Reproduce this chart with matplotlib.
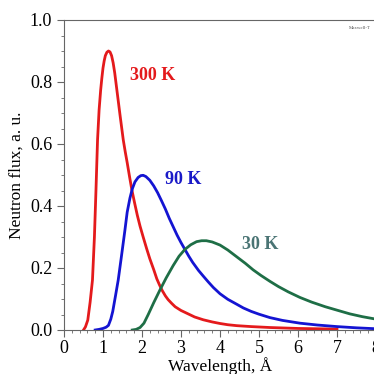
import matplotlib
matplotlib.use('Agg')
import matplotlib.pyplot as plt
from matplotlib.ticker import MultipleLocator

# 300 K curve
x300 = [0.50, 0.55, 0.61, 0.67, 0.73, 0.78, 0.82, 0.86, 0.90, 0.94, 0.97, 1.00, 1.03, 1.06,
        1.10, 1.14, 1.18, 1.22, 1.26, 1.30, 1.35, 1.40, 1.44, 1.52, 1.57, 1.62, 1.68,
        1.74, 1.81, 1.88, 1.95, 2.03, 2.12, 2.20, 2.30, 2.38, 2.45, 2.52, 2.60, 2.67,
        2.76, 2.85, 3.00, 3.15, 3.35, 3.57, 3.80, 4.00, 4.20, 4.43, 4.80, 5.28, 6.00, 7.00]
y300 = [0.000, 0.010, 0.032, 0.090, 0.161, 0.300, 0.452, 0.613, 0.710, 0.774, 0.812, 0.845, 0.868, 0.885,
        0.896, 0.900, 0.897, 0.885, 0.862, 0.830, 0.780, 0.730, 0.690, 0.613, 0.575, 0.540, 0.495,
        0.452, 0.410, 0.370, 0.335, 0.300, 0.262, 0.230, 0.195, 0.165, 0.145, 0.127, 0.110, 0.098,
        0.086, 0.075, 0.063, 0.054, 0.042, 0.033, 0.026, 0.021, 0.017, 0.014, 0.011, 0.008, 0.005, 0.003]

# 90 K curve
x90 = [0.80, 0.90, 1.00, 1.08, 1.14, 1.20, 1.25, 1.32, 1.39, 1.47, 1.56, 1.62, 1.69, 1.75,
       1.82, 1.90, 1.97, 2.03, 2.10, 2.20, 2.30, 2.40, 2.50, 2.60, 2.70, 2.80, 2.90, 3.00,
       3.10, 3.20, 3.30, 3.45, 3.57, 3.70, 3.83, 4.00, 4.20, 4.43, 4.60, 4.80, 5.00, 5.28,
       5.60, 6.05, 6.50, 7.00, 7.50, 8.00]
y90 = [0.000, 0.002, 0.005, 0.009, 0.015, 0.035, 0.060, 0.110, 0.161, 0.235, 0.320, 0.380, 0.425, 0.455,
       0.478, 0.492, 0.498, 0.499, 0.495, 0.483, 0.465, 0.443, 0.417, 0.390, 0.360, 0.333, 0.306, 0.282,
       0.260, 0.238, 0.218, 0.192, 0.174, 0.155, 0.137, 0.117, 0.099, 0.083, 0.071, 0.060, 0.051, 0.040,
       0.031, 0.022, 0.016, 0.011, 0.007, 0.004]

# 30 K curve
x30 = [1.75, 1.85, 1.95, 2.05, 2.16, 2.30, 2.46, 2.62, 2.80, 2.95, 3.10, 3.25, 3.40, 3.53,
       3.65, 3.80, 4.00, 4.20, 4.43, 4.65, 4.85, 5.05, 5.28, 5.50, 5.75, 6.05, 6.35, 6.70,
       7.00, 7.33, 7.65, 8.00]
y30 = [0.000, 0.002, 0.008, 0.022, 0.050, 0.088, 0.129, 0.168, 0.208, 0.238, 0.260, 0.275, 0.285, 0.288,
       0.288, 0.284, 0.274, 0.258, 0.236, 0.215, 0.194, 0.176, 0.157, 0.140, 0.123, 0.105, 0.090, 0.075,
       0.064, 0.052, 0.043, 0.035]

plt.rcParams['font.family'] = ['Liberation Serif', 'DejaVu Serif']

fig = plt.figure(figsize=(3.74, 3.74), dpi=100)
ax = fig.add_axes([64/374, 44/374, 312/374, 310/374])

ax.plot(x300, y300, color='#e41a1c', lw=2.0)
ax.plot(x90, y90, color='#1414d2', lw=2.0)
ax.plot(x30, y30, color='#1e6e46', lw=2.0)

ax.text(1.68, 0.82, '300 K', color='#e41a1c', fontsize=13, fontweight='bold', va='center')
ax.text(2.6, 0.487, '90 K', color='#1a1ac8', fontsize=13, fontweight='bold', va='center')
ax.text(4.57, 0.275, '30 K', color='#4a7474', fontsize=13, fontweight='bold', va='center')
ax.text(7.3, 0.975, 'Maxwell-T', color='#555555', fontsize=3.5, va='center')

ax.set_xlim(0, 8)
ax.set_ylim(0, 1.0)
ax.xaxis.set_major_locator(MultipleLocator(1))
ax.xaxis.set_minor_locator(MultipleLocator(0.2))
ax.yaxis.set_major_locator(MultipleLocator(0.2))
ax.yaxis.set_minor_locator(MultipleLocator(0.05))
ax.yaxis.set_major_formatter(plt.FuncFormatter(lambda v, p: '%.1f' % v))

for s in ax.spines.values():
    s.set_color('#666666')
ax.tick_params(which='major', direction='out', length=5, color='#666666', labelsize=13)
ax.tick_params(which='minor', direction='out', length=2.5, color='#666666')
ax.tick_params(axis='x', pad=2)

ax.set_xlabel('Wavelength, Å', fontsize=12.5, labelpad=0)
ax.set_ylabel('Neutron flux, a. u.', fontsize=12.5, labelpad=4)

fig.savefig('out.png', dpi=100)
